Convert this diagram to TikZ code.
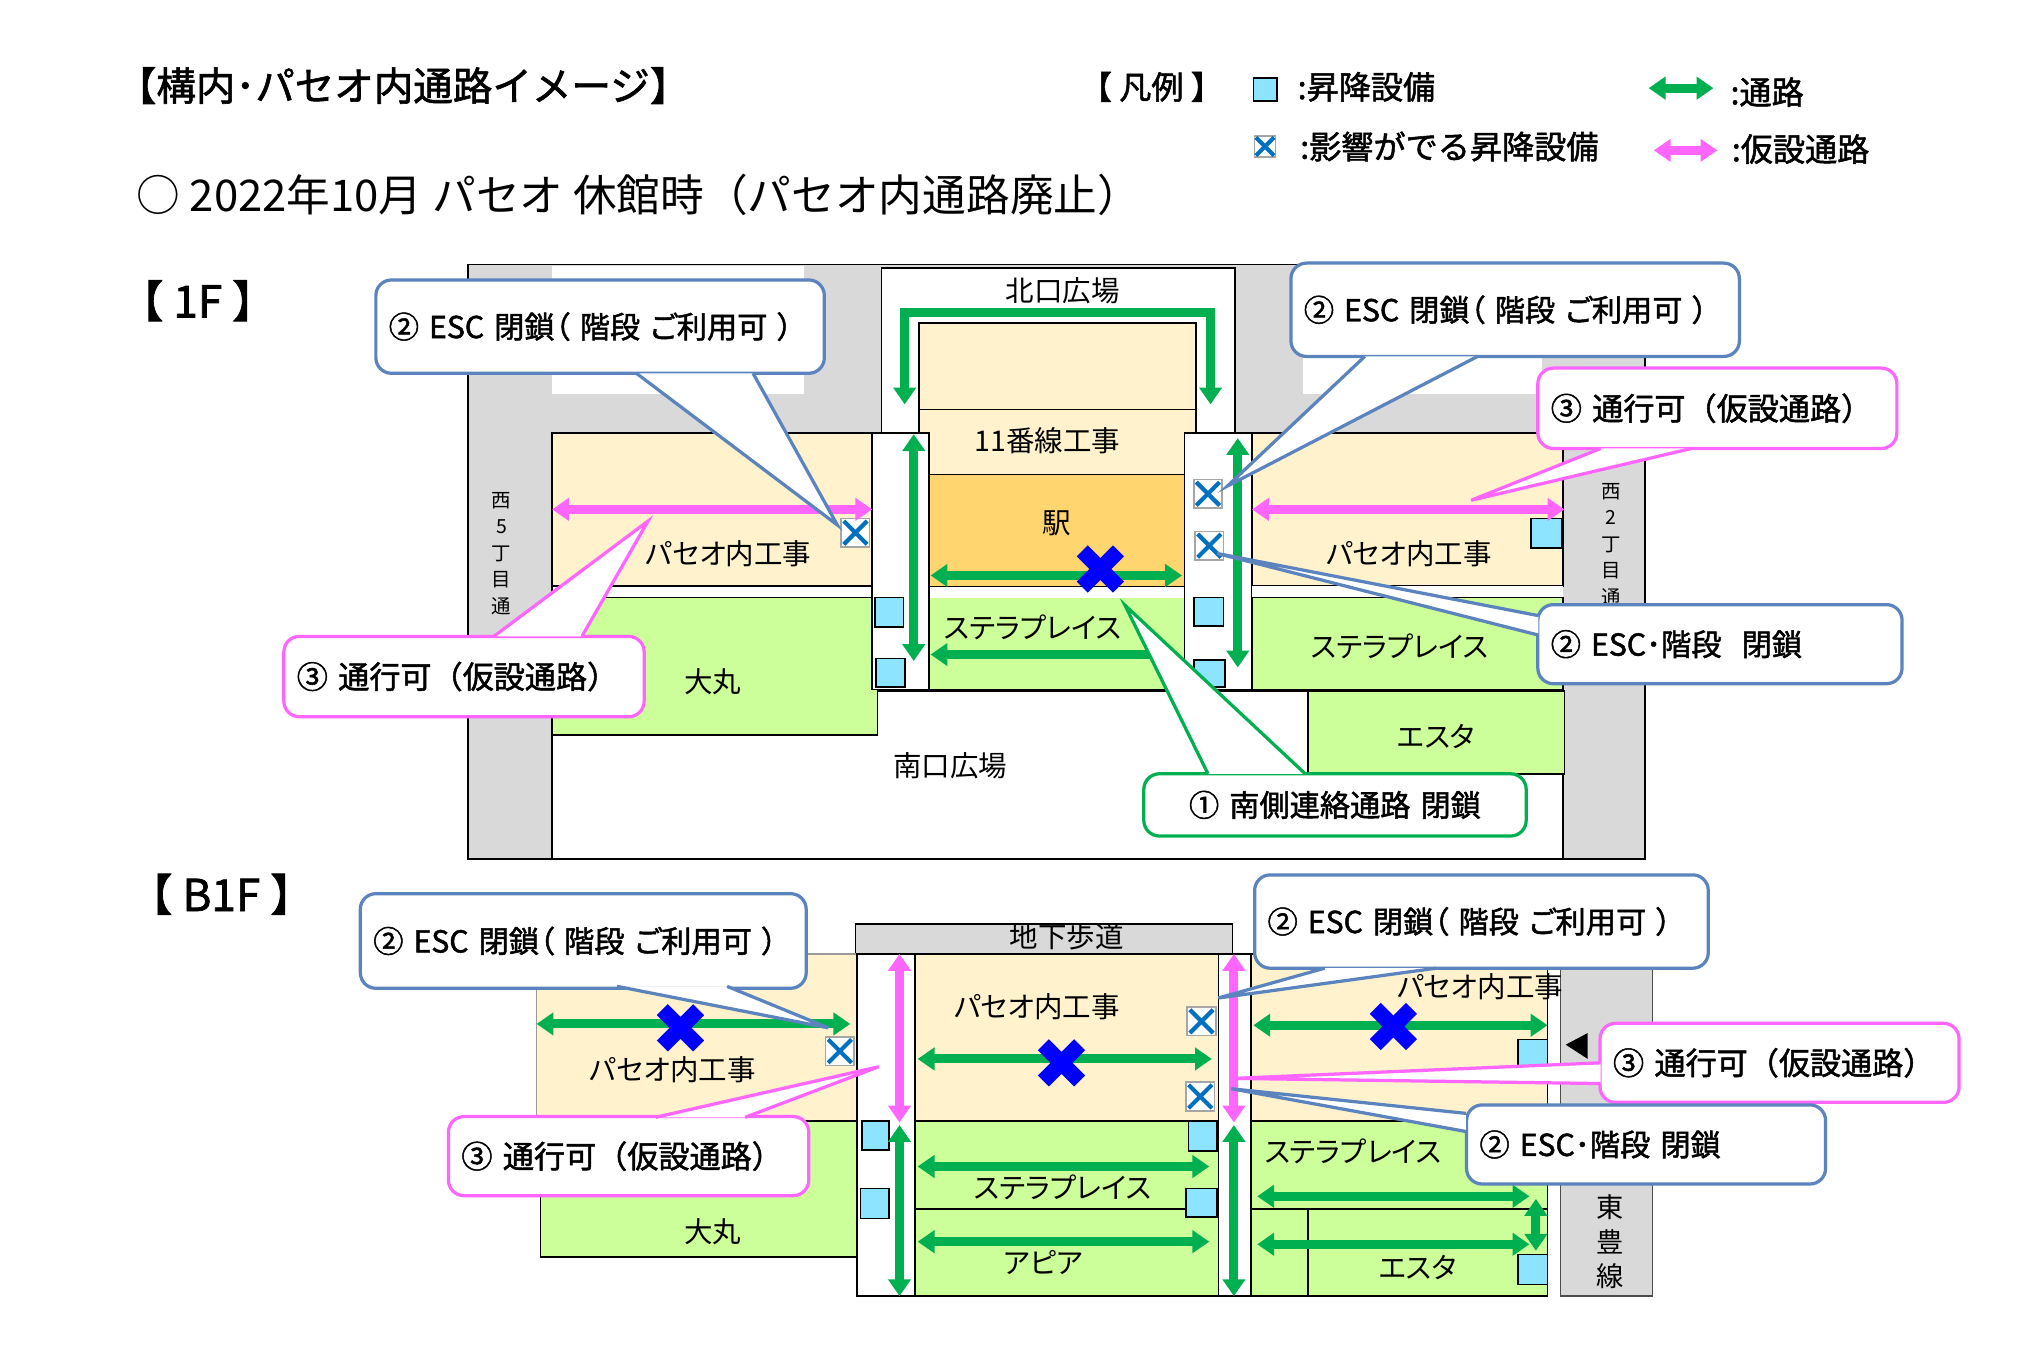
\documentclass[tikz,border=0pt]{standalone}
\usepackage{fontspec}
\setmainfont{Noto Sans CJK JP}[RawFeature=+palt]
\newfontfamily\pleine{Noto Sans CJK JP}
\newfontfamily\moyen{Noto Sans CJK JP}[FakeBold=1.6,RawFeature=+palt]
\newfontfamily\moyenpleine{Noto Sans CJK JP}[FakeBold=1.6]
\usetikzlibrary{arrows.meta}
\definecolor{gris}{HTML}{D9D9D9}
\definecolor{beige}{HTML}{FFF2CC}
\definecolor{vertclair}{HTML}{CCFF99}
\definecolor{orange}{HTML}{FFD56F}
\definecolor{cyanlift}{HTML}{8CE4FF}
\definecolor{vertpass}{HTML}{00B050}
\definecolor{rosepass}{HTML}{FF66FF}
\definecolor{bleubulle}{HTML}{5B84BF}
\definecolor{bleulift}{HTML}{0070C0}
\newcommand{\taille}[1]{\fontsize{#1}{#1}\selectfont}
\newcommand{\queue}[4]{
	\fill[white] (#2) -- (#3) -- (#4) -- cycle;
	\draw[line width=2.5pt,#1,line join=miter] (#2) -- (#3) -- (#4);
}
\tikzset{
	bloc/.style={draw=black,line width=1.3pt},
	etiquette/.style={font=\taille{22},inner sep=0pt},
	titrage/.style={anchor=west,inner sep=0pt,font=\moyenpleine\taille{30.5}},
	etage/.style={anchor=west,inner sep=0pt,font=\moyenpleine\taille{34}},
	legendage/.style={anchor=west,inner sep=0pt,font=\moyenpleine\taille{24.8}},
	vertical/.style={inner sep=0pt,align=center},
	passage/.style={line width=7pt,{Triangle[length=13pt,width=17pt]}-{Triangle[length=13pt,width=17pt]}},
	vertp/.style={passage,vertpass},
	rosep/.style={passage,rosepass},
	lift/.style={draw=black,line width=1.3pt,fill=cyanlift},
	xbox/.style={draw=black!35,line width=1.2pt,fill=white},
	xlift/.style={draw=bleulift,line width=3.2pt},
	croix/.style={draw=blue,line width=12pt},
	bulle/.style={fill=white,rounded corners=12pt,line width=2.5pt,align=left,inner xsep=10pt,inner ysep=0pt,outer sep=0pt,font=\moyen\taille{23.3}},
	bullebleu/.style={bulle,draw=bleubulle},
	bullerose/.style={bulle,draw=rosepass,font=\moyenpleine\taille{24}},
	bullevert/.style={bulle,draw=vertpass}
}
\begin{document}
\begin{tikzpicture}[x=1pt,y=-1pt]
	\useasboundingbox (0,0) rectangle (1567,1044.67);
	
	%Titres
	\node[titrage] (titre) at (90,66) {【構内･パセオ内通路イメージ】};
	\node[anchor=west,inner sep=0pt,font=\pleine\taille{33.7}] (soustitre) at (105,150) {○ 2022年10月 パセオ 休館時（パセオ内通路廃止）};
	\node[etage] (etageA) at (92,232) {【 1F 】};
	\node[etage] (etageB) at (99,690) {【 B1F 】};
	
	%Legende
	\node[legendage] (legende) at (833,67) {【 凡例 】};
	\filldraw[lift] (967,60) rectangle (985,78);
	\node[legendage] (legA) at (1001,67) {:昇降設備};
	\draw[vertp] (1272,68) -- (1322,68);
	\node[legendage] (legB) at (1335,71) {:通路};
	\filldraw[xbox] (968,105) rectangle (984,121);
	\draw[xlift] (969,106) -- (983,120) (983,106) -- (969,120);
	\node[legendage] (legC) at (1003,113) {:影響がでる昇降設備};
	\draw[rosep] (1276,116) -- (1325,116);
	\node[legendage] (legD) at (1336,115) {:仮設通路};
	
	%1F fond
	\filldraw[bloc,fill=gris] (361,204) rectangle (1269,663);
	\fill[white] (426,205) rectangle (620,304);
	\fill[white] (1005,205) rectangle (1190,304);
	\filldraw[bloc,fill=white] (426,533) rectangle (1206,663);
	\filldraw[bloc,fill=white] (680,207) rectangle (953,334);
	\filldraw[bloc,fill=beige] (709,249) rectangle (923,316);
	\filldraw[bloc,fill=beige] (709,316) rectangle (923,366);
	\filldraw[bloc,fill=orange] (717,366) rectangle (914,453);
	\filldraw[bloc,fill=vertclair] (717,461) rectangle (914,532);
	\fill[white] (717,453) rectangle (914,461);
	\filldraw[bloc,fill=beige] (426,334) rectangle (673,452);
	\filldraw[bloc,fill=white] (426,452) rectangle (673,461);
	\filldraw[bloc,fill=vertclair] (426,461) rectangle (677,567);
	\filldraw[bloc,fill=white] (673,334) rectangle (717,532);
	\filldraw[bloc,fill=white] (914,334) rectangle (966,532);
	\filldraw[bloc,fill=beige] (966,334) rectangle (1206,452);
	\fill[white] (966,452) rectangle (1206,461);
	\filldraw[bloc,fill=vertclair] (966,461) rectangle (1206,532);
	\filldraw[bloc,fill=vertclair] (1009,533) rectangle (1207,597);
	
	%1F textes
	\node[etiquette] (nordplace) at (820,224) {北口広場};
	\node[etiquette] (voieonze) at (808,340) {11番線工事};
	\node[etiquette] (gare) at (815,404) {駅};
	\node[etiquette] (paseoG) at (562,427) {パセオ内工事};
	\node[etiquette] (paseoD) at (1087,427) {パセオ内工事};
	\node[etiquette] (stellarA) at (797,484) {ステラプレイス};
	\node[etiquette] (stellarB) at (1080,499) {ステラプレイス};
	\node[etiquette] (daimaruA) at (550,526) {大丸};
	\node[etiquette] (sudplace) at (733,591) {南口広場};
	\node[etiquette] (estaA) at (1108,568) {エスタ};
	\node[vertical,font=\fontsize{15}{20.5}\selectfont] (rueG) at (387,427) {西\\5\\丁\\目\\通};
	\node[vertical,font=\fontsize{15}{20.5}\selectfont] (rueD) at (1243,420) {西\\2\\丁\\目\\通};
	
	%1F ascenseurs
	\foreach \x/\y/\w/\h in {675/461/22/23,676/508/22/22,921/461/23/22,921/509/24/21,1181/400/24/23}{
		\filldraw[lift] (\x,\y) rectangle ++(\w,\h);
	}
	\foreach \x/\y in {649/400,921/370,922/410}{
		\filldraw[xbox] (\x,\y) rectangle ++(22,22);
		\draw[xlift] (\x+2,\y+2) -- ++(18,18) (\x+20,\y+2) -- ++(-18,18);
	}
	
	%1F passages
	\coordinate (nordG) at (698,312);
	\coordinate (nordD) at (934,312);
	\draw[vertp] (nordG) -- (698,241) -- (934,241) -- (nordD);
	\draw[vertp] (705,335) -- (705,510);
	\draw[vertp] (955,338) -- (955,515);
	\draw[vertp] (718,444) -- (912,444);
	\draw[vertp,{Triangle[length=13pt,width=17pt]}-] (718,505) -- (888,505);
	\draw[rosep] (426,393) -- (673,393);
	\draw[rosep] (966,393) -- (1207,393);
	\draw[croix] (835,425) -- (863,453) (863,425) -- (835,453);
	
	%1F bulles
	\node[bullebleu,text width=326pt,minimum height=72pt] (bulleA) at (463,252) {② ESC 閉鎖（ 階段 ご利用可 ）};
	\queue{bleubulle}{491,288}{646,405}{581,288}
	\node[bullebleu,text width=326pt,minimum height=72pt] (bulleB) at (1169,239) {② ESC 閉鎖（ 階段 ご利用可 ）};
	\queue{bleubulle}{1053,275}{947,375}{1140,275}
	\node[bullerose,text width=257pt,minimum height=62pt] (bulleC) at (1325,315) {③ 通行可（仮設通路）};
	\queue{rosepass}{1235,346}{1135,386}{1305,346}
	\node[bullerose,text width=258pt,minimum height=62pt] (bulleD) at (358,522) {③ 通行可（仮設通路）};
	\queue{rosepass}{381,491}{500,402}{449,491}
	\node[bullebleu,text width=261pt,minimum height=61pt] (bulleE) at (1327,497) {② ESC･階段\ \ 閉鎖};
	\queue{bleubulle}{1187,475}{939,427}{1187,490}
	\node[bullevert,text width=275pt,minimum height=48pt,align=center] (bulleF) at (1030,621) {① 南側連絡通路 閉鎖};
	\queue{vertpass}{932,597}{868,467}{1007,597}
	
	%B1F fond
	\filldraw[draw=black,line width=1.3pt,fill=gris] (660,713) rectangle (951,736);
	\filldraw[draw=black!40,line width=1.2pt,fill=beige] (414,736) rectangle (661,865);
	\filldraw[bloc,fill=vertclair] (417,865) rectangle (661,970);
	\filldraw[bloc,fill=white] (661,736) rectangle (706,1000);
	\filldraw[bloc,fill=beige] (706,736) rectangle (940,865);
	\filldraw[bloc,fill=vertclair] (706,865) rectangle (940,933);
	\filldraw[bloc,fill=vertclair] (706,933) rectangle (940,1000);
	\filldraw[bloc,fill=white] (940,736) rectangle (965,1000);
	\filldraw[bloc,fill=beige] (965,736) rectangle (1194,865);
	\filldraw[bloc,fill=vertclair] (965,865) rectangle (1194,933);
	\filldraw[bloc,fill=vertclair] (965,933) rectangle (1009,1000);
	\filldraw[bloc,fill=vertclair] (1009,933) rectangle (1194,1000);
	\filldraw[draw=black!70,line width=1.3pt,fill=gris] (1204,736) rectangle (1275,1000);
	\fill[black] (1208,806) -- (1225,797) -- (1225,817) -- cycle;
	
	%B1F textes
	\node[etiquette] (souterrain) at (823,723) {地下歩道};
	\node[etiquette] (paseoH) at (519,825) {パセオ内工事};
	\node[etiquette] (paseoI) at (800,777) {パセオ内工事};
	\node[etiquette] (paseoJ) at (1142,761) {パセオ内工事};
	\node[etiquette] (stellarC) at (820,916) {ステラプレイス};
	\node[etiquette] (stellarE) at (1044,888) {ステラプレイス};
	\node[etiquette] (apia) at (805,974) {アピア};
	\node[etiquette] (daimaruB) at (550,950) {大丸};
	\node[etiquette] (estaB) at (1094,978) {エスタ};
	\node[vertical,font=\fontsize{21}{26.5}\selectfont] (toho) at (1242,958) {東\\豊\\線};
	
	%B1F ascenseurs
	\foreach \x/\y/\w/\h in {665/865/21/22,664/917/22/23,917/865/22/23,915/917/24/22,1171/802/23/22,1171/968/23/23}{
		\filldraw[lift] (\x,\y) rectangle ++(\w,\h);
	}
	\foreach \x/\y in {637/800,916/777,915/835}{
		\filldraw[xbox] (\x,\y) rectangle ++(22,22);
		\draw[xlift] (\x+2,\y+2) -- ++(18,18) (\x+20,\y+2) -- ++(-18,18);
	}
	
	%B1F passages
	\foreach \x/\y/\z in {414/790/656,708/817/935,708/900/933,708/958/933,967/791/1194,970/923/1180,970/960/1180}{
		\draw[vertp] (\x,\y) -- (\z,\y);
	}
	\draw[vertp] (1185,925) -- (1185,965);
	\foreach \x in {694,952}{
		\draw[vertp] (\x,868) -- (\x,1000);
		\draw[rosep] (\x,736) -- (\x,866);
	}
	\foreach \x/\y in {525/793,819/820,1075/792}{
		\draw[croix] (\x-14,\y-14) -- ++(28,28) (\x+14,\y-14) -- ++(-28,28);
	}
	
	%B1F bulles
	\node[bullebleu,text width=324pt,minimum height=73pt] (bulleG) at (450,726) {② ESC 閉鎖（ 階段 ご利用可 ）};
	\queue{bleubulle}{476,761}{639,793}{561,761}
	\node[bullebleu,text width=330pt,minimum height=72pt] (bulleH) at (1143,711) {② ESC 閉鎖（ 階段 ご利用可 ）};
	\queue{bleubulle}{1022,747}{940,770}{1108,747}
	\node[bullerose,text width=257pt,minimum height=61pt] (bulleI) at (1373,820) {③ 通行可（仮設通路）};
	\queue{rosepass}{1235,820}{952,832}{1235,836}
	\node[bullebleu,text width=257pt,minimum height=61pt] (bulleJ) at (1270,883) {② ESC･階段 閉鎖};
	\queue{bleubulle}{1131,859}{950,840}{1131,873}
	\node[bullerose,text width=258pt,minimum height=61pt] (bulleK) at (485,892) {③ 通行可（仮設通路）};
	\queue{rosepass}{506,862}{678,823}{575,862}
\end{tikzpicture}
\end{document}
